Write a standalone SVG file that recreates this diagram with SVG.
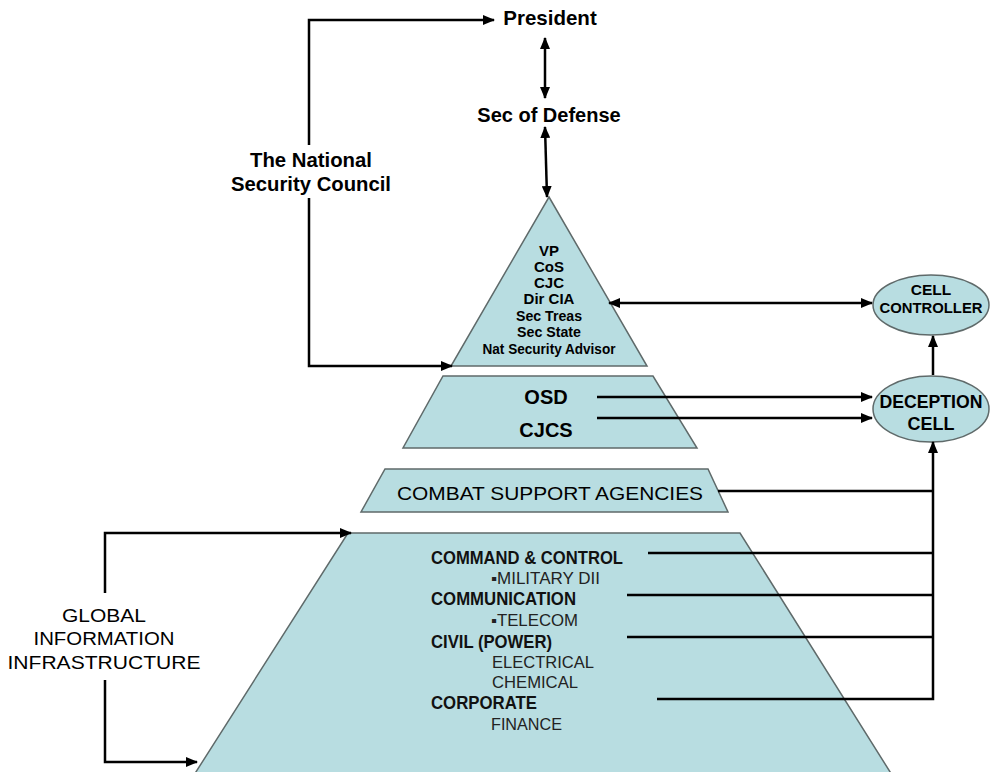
<svg xmlns="http://www.w3.org/2000/svg" width="992" height="772" viewBox="0 0 992 772">
<defs>
<marker id="ah" markerUnits="userSpaceOnUse" markerWidth="12" markerHeight="10" refX="11" refY="5" orient="auto-start-reverse">
<path d="M0,0 L12,5 L0,10 z" fill="#000"/>
</marker>
<style>
.shape{fill:#b8dde1;stroke:#5f6a6a;stroke-width:1.5}
.con{fill:none;stroke:#000;stroke-width:2.5}
.t{font-family:"Liberation Sans",Arial,sans-serif;fill:#000}
.b{font-weight:bold}
.tri{font-family:"Liberation Sans",Arial,sans-serif;font-weight:bold;font-size:15px;fill:#000;text-anchor:middle}
.bp{font-family:"Liberation Sans",Arial,sans-serif;font-weight:bold;font-size:17.5px;fill:#111}
.rg{font-family:"Liberation Sans",Arial,sans-serif;font-size:16px;fill:#222}
</style>
</defs>
<rect width="992" height="772" fill="#fff"/>

<g id="bottom-pyramid">
<polygon class="shape" points="348,533 740,533 892,775 194,775"/>
<text class="bp" x="431" y="564" textLength="192" lengthAdjust="spacingAndGlyphs">COMMAND &amp; CONTROL</text>
<text class="rg" x="491" y="584" textLength="109" lengthAdjust="spacingAndGlyphs">▪MILITARY DII</text>
<text class="bp" x="431" y="605" textLength="145" lengthAdjust="spacingAndGlyphs">COMMUNICATION</text>
<text class="rg" x="491" y="626" textLength="87" lengthAdjust="spacingAndGlyphs">▪TELECOM</text>
<text class="bp" x="431" y="648" textLength="121" lengthAdjust="spacingAndGlyphs">CIVIL (POWER)</text>
<text class="rg" x="492" y="668" textLength="102" lengthAdjust="spacingAndGlyphs">ELECTRICAL</text>
<text class="rg" x="492" y="688" textLength="86" lengthAdjust="spacingAndGlyphs">CHEMICAL</text>
<text class="bp" x="431" y="709" textLength="106" lengthAdjust="spacingAndGlyphs">CORPORATE</text>
<text class="rg" x="491" y="730" textLength="71" lengthAdjust="spacingAndGlyphs">FINANCE</text>
</g>

<g id="combat-support">
<polygon class="shape" points="385,469 708,469 728,512 361,512"/>
<text class="t" x="397" y="500" font-size="19" textLength="306" lengthAdjust="spacingAndGlyphs">COMBAT SUPPORT AGENCIES</text>
</g>

<g id="osd-cjcs">
<polygon class="shape" points="443,376 653,376 697,448 403,448"/>
<text class="t b" x="546" y="404" font-size="20" text-anchor="middle">OSD</text>
<text class="t b" x="546" y="437" font-size="20" text-anchor="middle">CJCS</text>
</g>

<g id="nsc-triangle">
<polygon class="shape" points="549,197 647,366 451,366"/>
<text class="tri" x="549" y="256">VP</text>
<text class="tri" x="549" y="272">CoS</text>
<text class="tri" x="549" y="288">CJC</text>
<text class="tri" x="549" y="304">Dir CIA</text>
<text class="tri" x="549" y="321" textLength="66" lengthAdjust="spacingAndGlyphs">Sec Treas</text>
<text class="tri" x="549" y="337" textLength="64" lengthAdjust="spacingAndGlyphs">Sec State</text>
<text class="tri" x="549" y="354" textLength="133" lengthAdjust="spacingAndGlyphs">Nat Security Advisor</text>
</g>

<g id="president">
<text class="t b" x="550" y="25" font-size="20.5" text-anchor="middle">President</text>
</g>

<g id="sec-defense">
<text class="t b" x="549" y="122" font-size="20" text-anchor="middle">Sec of Defense</text>
</g>

<g id="nsc-label">
<text class="t b" x="311" y="167" font-size="19.5" text-anchor="middle" textLength="122" lengthAdjust="spacingAndGlyphs">The National</text>
<text class="t b" x="311" y="191" font-size="19.5" text-anchor="middle" textLength="160" lengthAdjust="spacingAndGlyphs">Security Council</text>
</g>

<g id="gii-label">
<text class="t" x="104" y="622" font-size="18.5" text-anchor="middle" textLength="84" lengthAdjust="spacingAndGlyphs">GLOBAL</text>
<text class="t" x="104" y="645" font-size="18.5" text-anchor="middle" textLength="141" lengthAdjust="spacingAndGlyphs">INFORMATION</text>
<text class="t" x="104" y="669" font-size="18.5" text-anchor="middle" textLength="193" lengthAdjust="spacingAndGlyphs">INFRASTRUCTURE</text>
</g>

<g id="cell-controller">
<ellipse class="shape" cx="931" cy="305" rx="58" ry="30"/>
<text class="t b" x="931" y="295" font-size="15.5" text-anchor="middle">CELL</text>
<text class="t b" x="931" y="313" font-size="15.5" text-anchor="middle" textLength="103" lengthAdjust="spacingAndGlyphs">CONTROLLER</text>
</g>

<g id="deception-cell">
<ellipse class="shape" cx="931" cy="409" rx="58" ry="33"/>
<text class="t b" x="931" y="408" font-size="18" text-anchor="middle" textLength="103" lengthAdjust="spacingAndGlyphs">DECEPTION</text>
<text class="t b" x="931" y="430" font-size="18" text-anchor="middle">CELL</text>
</g>

<g id="connectors">
<path class="con" d="M309,145 V20 H494" marker-end="url(#ah)"/>
<path class="con" d="M309,198 V366 H452" marker-end="url(#ah)"/>
<path class="con" d="M545,38 V98" marker-start="url(#ah)" marker-end="url(#ah)"/>
<path class="con" d="M545,127 L547,197" marker-start="url(#ah)" marker-end="url(#ah)"/>
<path class="con" d="M609,303 H872" marker-start="url(#ah)" marker-end="url(#ah)"/>
<path class="con" d="M597,397 H872" marker-end="url(#ah)"/>
<path class="con" d="M597,418 H872" marker-end="url(#ah)"/>
<path class="con" d="M933,375 V336" marker-end="url(#ah)"/>
<path class="con" d="M718,491 H933"/>
<path class="con" d="M648,553 H933"/>
<path class="con" d="M627,595 H933"/>
<path class="con" d="M627,637 H933"/>
<path class="con" d="M657,699 H933 V442" marker-end="url(#ah)"/>
<path class="con" d="M105,593 V533 H351" marker-end="url(#ah)"/>
<path class="con" d="M105,680 V762 H197" marker-end="url(#ah)"/>
</g>
</svg>
